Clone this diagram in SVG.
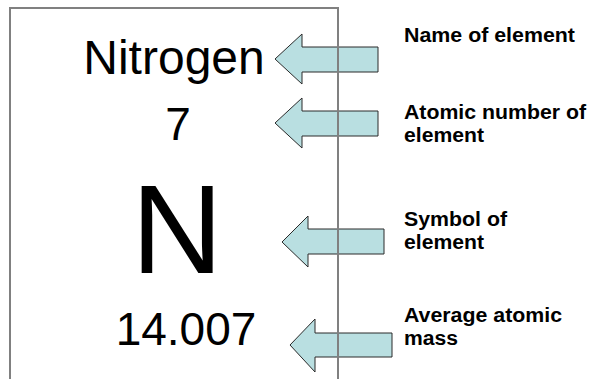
<svg xmlns="http://www.w3.org/2000/svg" width="592" height="379" viewBox="0 0 592 379">
<style>
.big{font-family:"Liberation Sans",Arial,sans-serif;fill:#000;text-anchor:middle}
.lbl{font-family:"Liberation Sans",Arial,sans-serif;font-weight:bold;font-size:19.5px;fill:#000}
.arr{fill:#B9DFE1;stroke:#2a2a2a;stroke-width:1}
.box{fill:none;stroke:#808080;stroke-width:2}
</style>
<rect width="592" height="379" fill="#fff"/>
<g id="connectors">
<path class="arr" d="M275,59 L302,34 L302,47 L378,47 L378,72 L302,72 L302,84 Z"/>
<path class="arr" d="M275,123 L302,98 L302,111 L378,111 L378,136 L302,136 L302,148 Z"/>
<path class="arr" d="M282,242 L308,216 L308,229 L384,229 L384,254 L308,254 L308,267 Z"/>
<path class="arr" d="M290,345 L315,319 L315,333 L392,333 L392,357 L315,357 L315,372 Z"/>
</g>
<g id="element-card">
<path class="box" d="M10,382 L10,8 L338,8 L338,382"/>
<text class="big" x="174" y="74" font-size="48">Nitrogen</text>
<text class="big" x="178" y="140" font-size="46">7</text>
<text class="big" x="177" y="273" font-size="127">N</text>
<text class="big" x="186" y="345" font-size="46">14.007</text>
</g>
<g id="label-name"><text class="lbl" x="404" y="42" textLength="171" lengthAdjust="spacingAndGlyphs">Name of element</text></g>
<g id="label-number"><text class="lbl" x="404" y="119" textLength="182" lengthAdjust="spacingAndGlyphs">Atomic number of</text><text class="lbl" x="404" y="142" textLength="80" lengthAdjust="spacingAndGlyphs">element</text></g>
<g id="label-symbol"><text class="lbl" x="404" y="226" textLength="103" lengthAdjust="spacingAndGlyphs">Symbol of</text><text class="lbl" x="404" y="249" textLength="80" lengthAdjust="spacingAndGlyphs">element</text></g>
<g id="label-mass"><text class="lbl" x="404" y="322" textLength="158" lengthAdjust="spacingAndGlyphs">Average atomic</text><text class="lbl" x="404" y="345" textLength="54" lengthAdjust="spacingAndGlyphs">mass</text></g>
</svg>
